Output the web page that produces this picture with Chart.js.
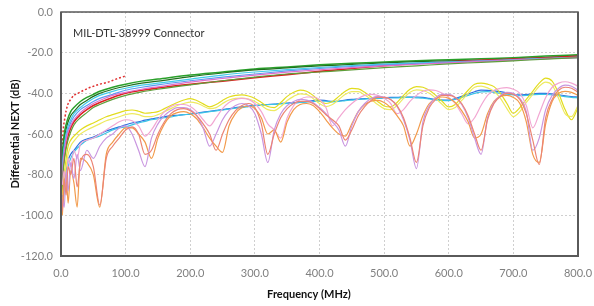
<!DOCTYPE html>
<html lang="en">

<head>
    <meta charset="UTF-8">
    <script src="https://cdn.jsdelivr.net/npm/chart.js"></script>
    <title>MIL-DTL-38999 Connector NEXT</title>
</head>

<body>
    <div class="chart-wrapper">
        <canvas id="myChart"></canvas>
    </div>
    <style>
        body {
            background-color: #fff;
            margin: 0;
        }

        .chart-wrapper {
            position: relative;
            width: 594px;
            height: 306px;
        }
    </style>
    <script>
        const chartTitle = "MIL-DTL-38999 Connector";
        const xTitle = "Frequency (MHz)";
        const yTitle = "Differential NEXT (dB)";
        const xTicks = [0, 100, 200, 300, 400, 500, 600, 700, 800];
        const yTicks = [0, -20, -40, -60, -80, -100, -120];

        // upper group (smooth curves)
        const freqUpper = [1, 3, 6, 10, 15, 20, 30, 40, 50, 60, 80, 100, 125, 150, 200, 250, 300, 350, 400, 450, 500, 550, 600, 650, 700, 750, 800];
        const green = [-78, -66, -58, -53, -49, -47, -44, -42, -40.5, -39, -37, -35.5, -34, -33, -31, -29.5, -28, -27, -26, -25.2, -24.6, -24, -23.5, -23, -22.5, -21.7, -21];
        const darkGreen = [-82, -70, -61, -55, -51, -49, -45.5, -43.5, -41.5, -40, -38, -36.5, -35, -34, -31.8, -30, -28.5, -27.5, -26.5, -25.8, -25, -24.4, -24, -23.6, -23, -22.3, -21.6];
        const cyan = [-85, -72, -63, -57, -53, -50, -47, -44.5, -42.5, -41, -39, -37.5, -36, -35, -33, -31, -29.5, -28.3, -27.3, -26.4, -25.6, -25, -24.5, -24, -23.4, -22.8, -22.2];
        const lightBlue = [-88, -74, -65, -59, -54.5, -51.5, -48, -46, -44, -42.5, -40.5, -38.5, -37, -35.8, -33.8, -32, -30.5, -29, -27.8, -26.8, -26, -25.4, -24.8, -24.2, -23.6, -23, -22.4];
        const magenta = [-90, -76, -67, -60, -56, -53, -49.5, -47, -45, -43.5, -41, -39.5, -38, -36.8, -34.5, -32.7, -31, -29.6, -28.4, -27.4, -26.5, -25.7, -25, -24.3, -23.7, -23, -22.4];
        const red = [-92, -78, -69, -62, -57, -54, -50.5, -48, -46, -44.5, -42, -40, -38.5, -37.3, -35.5, -34, -32.3, -30.8, -29.2, -27.8, -26.4, -25.3, -24.5, -23.8, -23.2, -22.5, -21.8];
        const olive = [-95, -80, -71, -64, -59, -55.5, -52, -49.5, -47, -45.5, -43, -41, -39.3, -38, -35.8, -33.8, -32, -30.5, -29.5, -28.5, -27.4, -26.5, -25.5, -24.8, -24, -23.2, -22.5];

        // short red dotted trace
        const freqShort = [1, 3, 6, 10, 15, 20, 26, 35, 46, 60, 73, 85, 100];
        const redShort = [-75, -60, -52, -46, -43, -41, -40, -38.5, -37, -35.5, -34.5, -33, -31.5];

        // lower group
        const freqLower = [2, 5, 8, 11, 15, 20, 25, 30,
            40, 50, 60, 70, 80, 90, 100, 110, 120, 130,
            140, 150, 160, 170, 180, 190, 200, 210, 220, 230,
            240, 250, 260, 270, 280, 290, 300, 310, 320, 330,
            340, 350, 360, 370, 380, 390, 400, 410, 420, 430,
            440, 450, 460, 470, 480, 490, 500, 510, 520, 530,
            540, 550, 560, 570, 580, 590, 600, 610, 620, 630,
            640, 650, 660, 670, 680, 690, 700, 710, 720, 730,
            740, 750, 760, 770, 780, 790, 800];
        const blue = [-92, -85, -78, -73, -70, -68, -66, -64,
            -62.5, -61.5, -60, -58.5, -57.5, -56.5, -55.5, -54.6, -54, -53.2,
            -52.6, -52, -51.5, -51, -50.8, -50.5, -50.2, -49.8, -49.2, -48.8,
            -48.4, -48, -47.5, -47, -46.6, -46.2, -45.9, -45.7, -45.5, -45.3,
            -45, -44.8, -44.6, -44.3, -44, -43.6, -43.3, -43.6, -44, -43.8,
            -43.3, -43, -42.8, -42.6, -42.5, -42.3, -42.2, -42, -42, -41.8,
            -41.8, -41.8, -42, -42.5, -43, -43.3, -43.3, -42.6, -41.5, -40.3,
            -39.2, -38.4, -38.5, -38.8, -39.2, -39.8, -40.5, -40.8, -40.6, -40.3,
            -40, -40, -40.3, -40.7, -41.2, -41.6, -41.8];
        const cyanLow = [-96, -88, -80, -76, -72, -69, -67, -65.5,
            -63, -62, -61, -59.5, -58, -57, -56.5, -55.5, -54.5, -53.8,
            -53, -52.5, -52, -51.6, -51, -50.5, -50.3, -49.8, -49.5, -49,
            -48.6, -48.2, -47.8, -47.3, -47, -46.5, -46, -45.8, -45.6, -45.4,
            -45.2, -45, -44.8, -44.5, -44.3, -44, -43.8, -43.9, -44.2, -44,
            -43.6, -43.3, -43, -42.8, -42.6, -42.5, -42.4, -42.3, -42.2, -42.1,
            -42, -42.2, -42.4, -42.8, -43.2, -43.5, -43.6, -43, -42, -41,
            -40, -39.3, -39.2, -39.5, -40, -40.4, -40.8, -41.1, -41, -40.7,
            -40.5, -40.5, -40.8, -41.2, -41.6, -42, -42.2];
        const yellow1 = [-90, -80, -72, -66, -63, -61, -59.5, -58,
            -56, -54.6, -53, -51.5, -50.5, -49.5, -48.5, -48.2, -48.8, -49.8,
            -49.5, -49, -47.5, -46, -44.5, -43.3, -42.6, -43.5, -45.2, -46.7,
            -45.5, -43.5, -41.8, -41, -40.8, -41.3, -42.5, -44.5, -46.5, -47,
            -44.5, -41.5, -39.5, -38.4, -39, -41, -43.8, -45, -44, -41.5,
            -39, -37.6, -37.8, -39.5, -41.8, -44, -46.2, -46.7, -44.5, -41,
            -38, -36.7, -37, -38.5, -41, -44, -46.7, -45.5, -42, -38.5,
            -35.5, -35, -35.5, -36.7, -40, -45, -49.8, -47, -43, -39,
            -35, -32.5, -34, -40, -48, -53, -47];
        const yellow2 = [-94, -84, -76, -70, -66, -63.5, -61.5, -60,
            -58, -56.5, -55, -53.5, -52.5, -51.5, -50.5, -50, -50.5, -51.5,
            -51.5, -50.5, -49, -47.5, -46, -45, -44.3, -44.8, -46.2, -47.5,
            -47, -45, -43.3, -42.5, -42.3, -42.8, -44, -46, -48, -48.5,
            -46.5, -43.5, -41.5, -40.3, -40.5, -42.5, -45, -46.5, -45.5, -43,
            -40.5, -39.2, -39.2, -40.8, -43, -45.5, -47.5, -48, -46, -42.5,
            -39.5, -38.3, -38.6, -40, -42.5, -45.5, -48, -47, -43.5, -40,
            -37, -36.5, -37.3, -39, -42.5, -47.5, -51.5, -49, -44.5, -40.5,
            -36.5, -34.5, -36, -42.5, -50, -51.5, -46];
        const salmon = [-98, -82, -90, -76, -80, -72, -86, -74,
            -70, -76, -95, -72, -66, -62, -58, -56.5, -60, -70,
            -68, -60, -54, -50, -48, -47.5, -48.5, -51, -55, -60,
            -68, -60, -53, -48.5, -46, -45, -47, -55, -70, -60,
            -52, -47.5, -45, -44, -44, -45, -47.5, -50.5, -53, -56,
            -63, -58, -51, -46.5, -43.5, -42, -42, -43, -46, -52,
            -62, -74, -56, -47, -43, -41, -41, -42, -45, -51,
            -60, -68, -53, -45, -41.5, -40, -40.5, -43, -50, -63,
            -75, -52, -43, -38.5, -37, -37.5, -39.5];
        const violet = [-92, -96, -78, -88, -74, -82, -70, -78,
            -68, -72, -66, -62, -60, -57, -56, -60, -68, -76,
            -62, -55, -51, -48.5, -47, -47, -48, -51, -57, -66,
            -60, -53, -48.5, -46, -45, -46, -50, -60, -74, -58,
            -50, -46, -44, -43, -43.3, -44.5, -47, -50, -54, -58,
            -66, -56, -49, -45, -42.5, -41.5, -41.8, -43, -46.5, -53,
            -63, -77, -54, -46, -42, -40.5, -40.5, -42, -45.5, -52,
            -62, -70, -52, -44.5, -41, -39.5, -40, -42.5, -49, -68,
            -62, -48, -41, -37.5, -36, -36.5, -38.5];
        const pink = [-85, -78, -88, -72, -76, -68, -72, -65,
            -63, -62, -60, -58, -56, -54, -53, -53.5, -56, -61,
            -58, -53, -49, -46.5, -45.5, -45.5, -46.5, -49, -53, -56,
            -52, -47.5, -44.5, -43, -42.5, -43, -45, -49, -55, -58,
            -62, -52, -46, -43, -41.8, -41.8, -43, -47, -56, -52,
            -48, -45, -42.5, -41, -40.5, -41, -42.5, -45, -50, -48,
            -44, -41, -39, -38.3, -38.6, -40, -42, -45, -50, -55,
            -52, -46, -41, -38.5, -37.5, -37.2, -38, -40, -46, -57,
            -50, -42, -37, -35, -34.3, -35, -36.5];
        const orange = [-100, -86, -80, -94, -78, -84, -96, -72,
            -74, -80, -96, -70, -64, -60, -57, -57, -60, -64,
            -72, -62, -55, -51, -49.5, -49, -50, -52.5, -57, -62,
            -66, -69, -56, -50, -47, -46.3, -47.5, -52, -60, -58,
            -64, -54, -48, -45.5, -45, -46, -49, -53, -57, -60,
            -61, -55, -49, -45.5, -43.8, -43.5, -44.5, -47, -51, -56,
            -66, -60, -51, -45, -42.5, -41.8, -42.5, -44.5, -48.5, -54,
            -62, -60, -50, -44, -41.5, -41, -42, -45, -54, -70,
            -74, -55, -44, -40, -39, -39.5, -41];

        const toPoints = (xs, ys) => xs.map((x, i) => ({ x: x, y: ys[i] }));
        const fontFamily = "Lato, 'Liberation Sans', sans-serif";

        const frame = {
            id: "frame",
            afterDatasetsDraw(chart) {
                const { ctx, chartArea: a } = chart;
                ctx.save();
                ctx.strokeStyle = "#5a5a5a";
                ctx.lineWidth = 1.5;
                ctx.strokeRect(a.left, a.top, a.right - a.left, a.bottom - a.top);
                ctx.lineWidth = 2;
                ctx.beginPath();
                ctx.moveTo(a.left, a.top);
                ctx.lineTo(a.left, a.bottom);
                ctx.lineTo(a.right, a.bottom);
                ctx.lineTo(a.right, a.top);
                ctx.stroke();

                ctx.fillStyle = "#333";
                ctx.font = "11px " + fontFamily;
                ctx.textBaseline = "middle";
                ctx.fillText(chartTitle, a.left + 12, a.top + 21);

                ctx.fillStyle = "#111";
                ctx.font = "bold 11px " + fontFamily;
                ctx.textAlign = "center";
                ctx.fillText(xTitle, 309, 294);
                ctx.translate(15, (a.top + a.bottom) / 2);
                ctx.rotate(-Math.PI / 2);
                ctx.fillText(yTitle, 0, 0);
                ctx.restore();
            }
        };

        const ctx = document.getElementById("myChart");

        Chart.defaults.font.family = fontFamily;
        Chart.defaults.font.size = 11;
        Chart.defaults.color = "#808080";
        Chart.defaults.datasets.line.borderWidth = 1.2;
        Chart.defaults.datasets.line.pointRadius = 0;
        Chart.defaults.datasets.line.cubicInterpolationMode = "monotone";

        new Chart(ctx, {
            type: "line",
            data: {
                datasets: [
                    { label: "salmon", data: toPoints(freqLower, salmon), borderColor: "#ec8474" },
                    { label: "violet", data: toPoints(freqLower, violet), borderColor: "#c996e0" },
                    { label: "orange", data: toPoints(freqLower, orange), borderColor: "#f29a4a" },
                    { label: "pink", data: toPoints(freqLower, pink), borderColor: "#f2a6d2" },
                    { label: "yellow2", data: toPoints(freqLower, yellow2), borderColor: "#eeea60" },
                    { label: "yellow1", data: toPoints(freqLower, yellow1), borderColor: "#e2dc1e" },
                    { label: "cyanLow", data: toPoints(freqLower, cyanLow), borderColor: "#3cc4e6" },
                    { label: "blue", data: toPoints(freqLower, blue), borderColor: "#2f6fe0" },
                    { label: "olive", data: toPoints(freqUpper, olive), borderColor: "#5e9e3a" },
                    { label: "magenta", data: toPoints(freqUpper, magenta), borderColor: "#e070cc" },
                    { label: "lightBlue", data: toPoints(freqUpper, lightBlue), borderColor: "#5c9cf0" },
                    { label: "cyan", data: toPoints(freqUpper, cyan), borderColor: "#40cce8" },
                    { label: "red", data: toPoints(freqUpper, red), borderColor: "#dd2020", borderWidth: 1.6 },
                    { label: "darkGreen", data: toPoints(freqUpper, darkGreen), borderColor: "#1f6f1f" },
                    { label: "green", data: toPoints(freqUpper, green), borderColor: "#2aa02a", borderWidth: 1.5 },
                    { label: "redShort", data: toPoints(freqShort, redShort), borderColor: "#e03030", borderDash: [2, 2], borderWidth: 1.5 }
                ]
            },
            options: {
                responsive: true,
                maintainAspectRatio: false,
                animation: false,
                layout: { padding: { top: 12, right: 16, left: 0, bottom: 0 } },
                plugins: {
                    legend: { display: false },
                    tooltip: { enabled: false }
                },
                scales: {
                    x: {
                        type: "linear",
                        min: 0,
                        max: 800,
                        afterFit: (scale) => {
                            scale.height = 50;
                            scale.paddingLeft = 0;
                            scale.paddingRight = 0;
                        },
                        afterBuildTicks: (scale) => { scale.ticks = xTicks.map(v => ({ value: v })); },
                        ticks: {
                            padding: 11,
                            maxRotation: 0,
                            callback: (v) => v.toFixed(1)
                        },
                        grid: { color: "#cfcfcf", drawTicks: false, lineWidth: 1 },
                        border: { display: false, dash: [2, 2] }
                    },
                    y: {
                        min: -120,
                        max: 0,
                        afterFit: (scale) => {
                            scale.width = 61;
                            scale.paddingTop = 0;
                            scale.paddingBottom = 0;
                        },
                        afterBuildTicks: (scale) => { scale.ticks = yTicks.map(v => ({ value: v })); },
                        ticks: {
                            padding: 8,
                            callback: (v) => v.toFixed(1)
                        },
                        grid: { color: "#cfcfcf", drawTicks: false, lineWidth: 1 },
                        border: { display: false, dash: [2, 2] }
                    }
                }
            },
            plugins: [frame]
        });
    </script>
</body>

</html>
